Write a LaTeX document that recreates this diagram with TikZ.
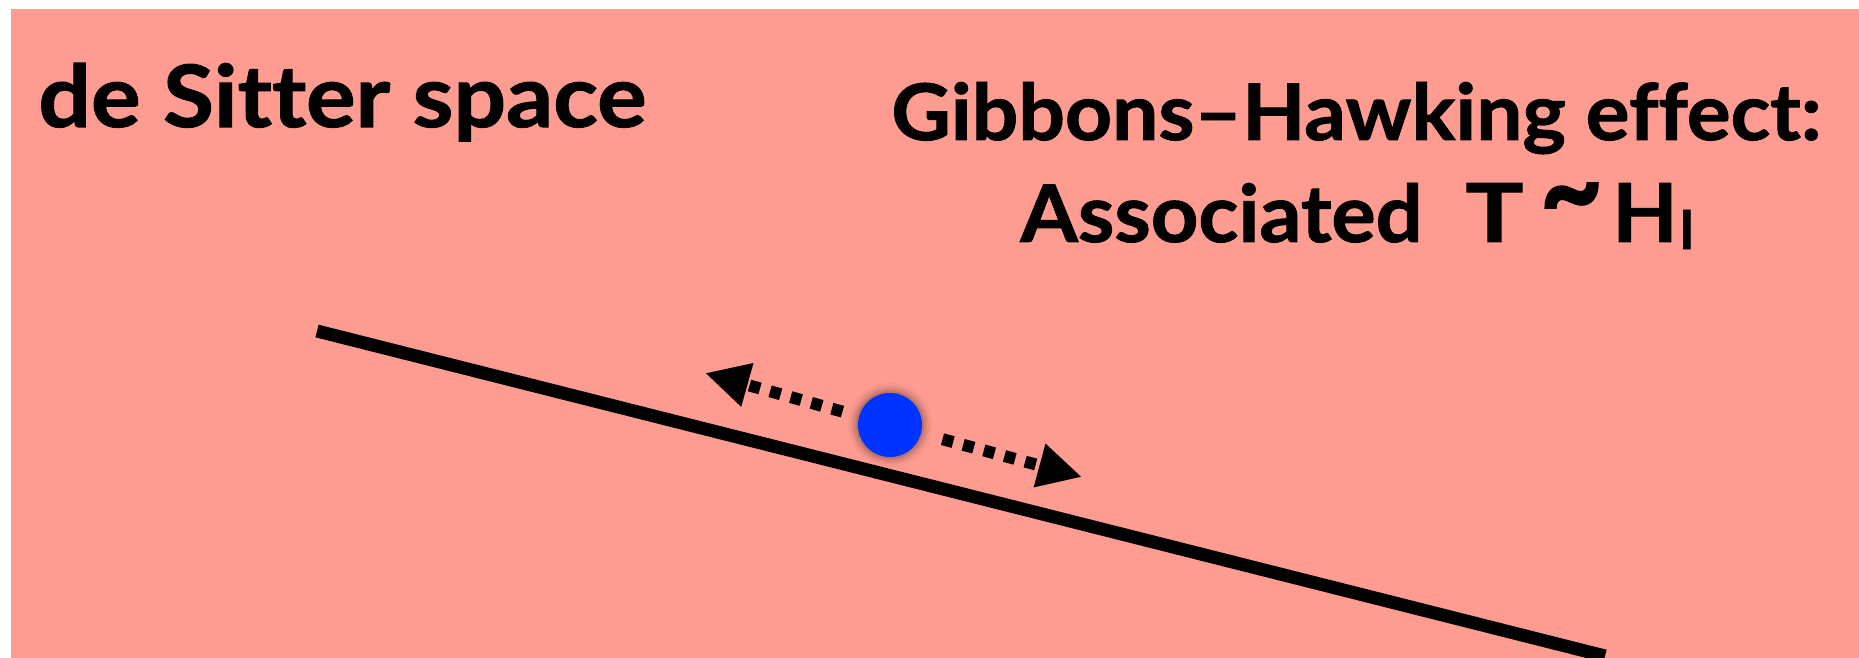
\documentclass[tikz,border=0pt]{standalone}
\usepackage{fontspec}
\usepackage{graphicx}
\setmainfont{Lato}[Ligatures={TeX,NoCommon},BoldFeatures={FakeBold=1.2}]
\usetikzlibrary{arrows.meta}
\definecolor{bgpink}{RGB}{255,156,145}
\definecolor{dotblue}{RGB}{0,51,255}
\tikzset{
  title/.style={font=\fontsize{42}{48}\selectfont\bfseries, inner sep=0pt, text=black, anchor=base west},
  worldline/.style={line width=6.5pt, black},
  dotarrow/.style={line width=6pt, dash pattern=on 5.5pt off 5.2pt, -{Triangle[length=22pt,width=21pt]}},
  particle/.style={circle, fill=dotblue, minimum size=32pt, inner sep=0pt}
}
\begin{document}
\begin{tikzpicture}[x=0.5pt,y=-0.5pt]
\useasboundingbox (0,0) rectangle (1859,658);
\fill[bgpink] (11,9) rectangle (1859,658);
\begin{scope}
\clip (11,9) rectangle (1859,658);
\coordinate (A) at (317,331);
\coordinate (B) at (1605,656);
\draw[worldline] (A) -- (B);
\end{scope}
\node[title] (ds) at (38,127) {\resizebox{304pt}{32pt}{de Sitter space}};
\node[title] (gh) at (891,140) {\resizebox{465pt}{29pt}{Gibbons–Hawking effect:}};
\node[title] (as) at (1020,242) {\resizebox{201pt}{29.5pt}{Associated}\hspace{21.5pt}\resizebox{29pt}{29.5pt}{T}\hspace{12pt}\makebox[24pt]{\raisebox{4pt}{\scalebox{1.1}[1.3]{\fontsize{50}{50}\selectfont\textasciitilde}}}\hspace{8.5pt}\resizebox{32.7pt}{29.5pt}{H}\hspace{0.8pt}\raisebox{-3.5pt}{\resizebox{7.5pt}{19.5pt}{I}}};
\foreach \r/\o in {42/0.04,39/0.06,36.5/0.08,34/0.12}{
  \fill[black, opacity=\o] (890,425) circle (\r*0.5pt);
}
\node[particle] (dot) at (890,425) {};
\coordinate (L) at (705,373);
\coordinate (R) at (1082,477);
\draw[dotarrow, shorten <=8.5pt] (dot) -- (L);
\draw[dotarrow, shorten <=11pt] (dot) -- (R);
\end{tikzpicture}
\end{document}
